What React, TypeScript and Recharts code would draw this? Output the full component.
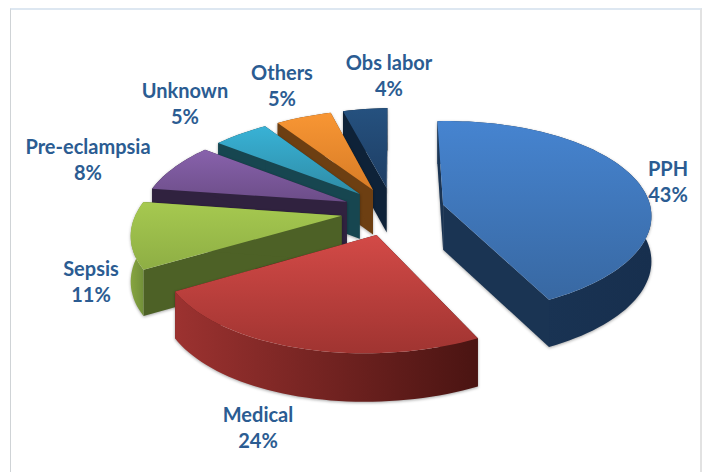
import React from 'react';
import { PieChart, Pie } from 'recharts';

// listed far slice first, so the painter's order gives the 3D overlap
const causes = ['Obs labor', 'Others', 'Unknown', 'Pre-eclampsia', 'Sepsis', 'Medical', 'PPH'];
const shares = [4, 5, 5, 8, 11, 24, 43];
const chartData = causes.map((name, i) => ({ name, value: shares[i] }));

// look of each slice: top gradient, rim gradient (left to right), cut wall
const sliceStyles: Record<string, { top: [string, string]; rim: [string, string]; wall: string }> = {
  PPH: { top: ['#4684d0', '#3868a2'], rim: ['#1b3758', '#172f4e'], wall: '#1a3453' },
  Medical: { top: ['#d34a47', '#a03431'], rim: ['#9c3230', '#4a1412'], wall: '#4a1412' },
  Sepsis: { top: ['#a6c950', '#8eae44'], rim: ['#86a440', '#72903a'], wall: '#4d6126' },
  'Pre-eclampsia': { top: ['#8862ac', '#6c4d88'], rim: ['#30223f', '#30223f'], wall: '#30223f' },
  Unknown: { top: ['#38b2d6', '#2f8ca6'], rim: ['#174650', '#174650'], wall: '#174650' },
  Others: { top: ['#f89634', '#d87c26'], rim: ['#6d3f12', '#6d3f12'], wall: '#6d3f12' },
  'Obs labor': { top: ['#25517f', '#1e3e64'], rim: ['#0e2238', '#0e2238'], wall: '#0e2238' },
};

// label centres in the picture
const labelSpots: Record<string, [number, number]> = {
  PPH: [668, 169],
  Medical: [258, 415],
  Sepsis: [91, 269],
  'Pre-eclampsia': [88, 147],
  Unknown: [185, 91],
  Others: [282, 73],
  'Obs labor': [389, 63],
};

// tilted disc projection
const H_RADIUS = 207;
const V_RADIUS = 96;
const PERSPECTIVE = 0.131;
const EXPLODE = 0.25;
const DEPTH = 45;
const ROLL = 0.02;

const rad = (d: number) => (d * Math.PI) / 180;

const Slice = (props: any) => {
  const { cx, cy, startAngle, endAngle, payload, name } = props;
  const key = payload?.name ?? name;
  const look = sliceStyles[key];
  // clock angles, 0 at the top and growing clockwise
  const a = Math.min(90 - startAngle, 90 - endAngle) + 360;
  const b = Math.max(90 - startAngle, 90 - endAngle) + 360;
  const mid = (a + b) / 2;
  const ox = EXPLODE * Math.sin(rad(mid));
  const oz = EXPLODE * Math.cos(rad(mid));

  const project = (r: number, deg: number) => {
    const X = ox + r * Math.sin(rad(deg));
    const Z = oz + r * Math.cos(rad(deg));
    const s = 1 / (1 + PERSPECTIVE * Z);
    const dx = H_RADIUS * X * s;
    return { x: cx + dx, y: cy - V_RADIUS * Z * s - ROLL * dx, d: DEPTH * (1 + (s - 1) * 0.4) };
  };

  const arc: { x: number; y: number; d: number }[] = [];
  const steps = Math.max(4, Math.ceil((b - a) / 2));
  for (let i = 0; i <= steps; i++) arc.push(project(1, a + ((b - a) * i) / steps));
  const apex = project(0, a);
  const first = arc[0];
  const last = arc[arc.length - 1];

  const pts = (list: { x: number; y: number }[]) => list.map((p) => `${p.x.toFixed(1)},${p.y.toFixed(1)}`).join(' ');
  const down = (p: { x: number; y: number; d: number }) => ({ x: p.x, y: p.y + p.d });
  const id = key.replace(/[^a-z]/gi, '');

  return (
    <g>
      <defs>
        <linearGradient id={`top${id}`} x1="0" y1="0" x2="0" y2="1">
          <stop offset="0" stopColor={look.top[0]} />
          <stop offset="1" stopColor={look.top[1]} />
        </linearGradient>
        <linearGradient id={`rim${id}`} x1="0" y1="0" x2="1" y2="0">
          <stop offset="0" stopColor={look.rim[0]} />
          <stop offset="1" stopColor={look.rim[1]} />
        </linearGradient>
      </defs>
      <g style={{ filter: 'drop-shadow(0 1px 1.5px rgba(0,0,0,0.35))' }}>
        <polygon points={pts([apex, first, down(first), down(apex)])} fill={look.wall} />
        <polygon points={pts([apex, last, down(last), down(apex)])} fill={look.wall} />
        <polygon points={pts([...arc, ...[...arc].reverse().map(down)])} fill={`url(#rim${id})`} />
      </g>
      <polygon points={pts([apex, ...arc])} fill={`url(#top${id})`} />
    </g>
  );
};

const renderLabel = (props: any) => {
  const key = props.payload?.name ?? props.name;
  const [x, y] = labelSpots[key];
  return (
    <text x={x} textAnchor="middle" fill="#2b5c92" fontFamily="Lato" fontWeight={700} fontSize={20}>
      <tspan x={x} y={y + 7}>{key}</tspan>
      <tspan x={x} y={y + 33}>{props.value}%</tspan>
    </text>
  );
};

export default function App() {
  return (
    <div style={{ position: 'absolute', left: 0, top: 0, width: 702, height: 472, overflow: 'hidden', background: '#fff' }}>
      <div
        style={{
          position: 'absolute',
          left: 10,
          top: 8,
          width: 689,
          height: 480,
          borderTop: '2px solid #dde7f1',
          borderLeft: '1px solid #cfd3d6',
          borderRight: '2px solid #e2e2e2',
        }}
      />
      <div style={{ position: 'absolute', left: 0, top: 0 }}>
        <PieChart width={702} height={472}>
          <Pie
            data={chartData}
            dataKey="value"
            nameKey="name"
            cx={388}
            cy={206}
            outerRadius={100}
            startAngle={90}
            endAngle={450}
            stroke="none"
            shape={Slice}
            label={renderLabel}
            labelLine={false}
            isAnimationActive={false}
          />
        </PieChart>
      </div>
    </div>
  );
}
